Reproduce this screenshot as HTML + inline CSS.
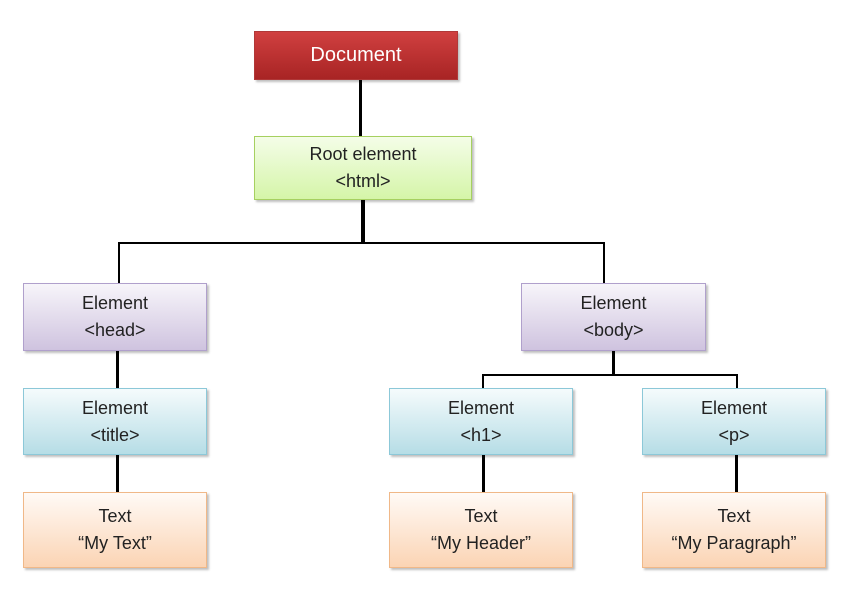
<!DOCTYPE html>
<html><head><style>
body{margin:0;width:850px;height:595px;background:#fff;position:relative;overflow:hidden;font-family:"Liberation Sans",sans-serif;}
.b{position:absolute;box-sizing:border-box;text-align:center;color:#222;font-size:18px;line-height:27px;display:flex;flex-direction:column;justify-content:center;box-shadow:2px 2px 2px rgba(0,0,0,0.25);}
.doc{background:linear-gradient(#d04040,#a82424);border:1px solid #b03838;color:#fff;font-size:20px;}
.root{background:linear-gradient(#f4fde8,#d5f5a8);border:1px solid #a6d060;}
.pur{background:linear-gradient(#f7f5fa,#cfc3df);border:1px solid #b0a0cc;}
.cy{background:linear-gradient(#f5fbfc,#b6dde6);border:1px solid #8cc8d8;}
.or{background:linear-gradient(#fffaf6,#fbd4b4);border:1px solid #f0b888;}
.l{position:absolute;background:#000;}
</style></head><body>
<div class="l" style="left:359px;top:80px;width:3px;height:56px"></div>
<div class="l" style="left:361px;top:200px;width:4px;height:44px"></div>
<div class="l" style="left:118px;top:242px;width:487px;height:2px"></div>
<div class="l" style="left:118px;top:242px;width:2px;height:41px"></div>
<div class="l" style="left:603px;top:242px;width:2px;height:41px"></div>
<div class="l" style="left:116px;top:351px;width:3px;height:37px"></div>
<div class="l" style="left:116px;top:455px;width:3px;height:37px"></div>
<div class="l" style="left:612px;top:351px;width:3px;height:24px"></div>
<div class="l" style="left:482px;top:374px;width:256px;height:2px"></div>
<div class="l" style="left:482px;top:374px;width:2px;height:14px"></div>
<div class="l" style="left:736px;top:374px;width:2px;height:14px"></div>
<div class="l" style="left:482px;top:455px;width:3px;height:37px"></div>
<div class="l" style="left:735px;top:455px;width:3px;height:37px"></div>

<div class="b doc" style="left:254px;top:31px;width:204px;height:49px">Document</div>
<div class="b root" style="left:254px;top:136px;width:218px;height:64px"><div>Root element</div><div>&lt;html&gt;</div></div>
<div class="b pur" style="left:23px;top:283px;width:184px;height:68px"><div>Element</div><div>&lt;head&gt;</div></div>
<div class="b pur" style="left:521px;top:283px;width:185px;height:68px"><div>Element</div><div>&lt;body&gt;</div></div>
<div class="b cy" style="left:23px;top:388px;width:184px;height:67px"><div>Element</div><div>&lt;title&gt;</div></div>
<div class="b cy" style="left:389px;top:388px;width:184px;height:67px"><div>Element</div><div>&lt;h1&gt;</div></div>
<div class="b cy" style="left:642px;top:388px;width:184px;height:67px"><div>Element</div><div>&lt;p&gt;</div></div>
<div class="b or" style="left:23px;top:492px;width:184px;height:76px"><div>Text</div><div>“My Text”</div></div>
<div class="b or" style="left:389px;top:492px;width:184px;height:76px"><div>Text</div><div>“My Header”</div></div>
<div class="b or" style="left:642px;top:492px;width:184px;height:76px"><div>Text</div><div>“My Paragraph”</div></div>
</body></html>
